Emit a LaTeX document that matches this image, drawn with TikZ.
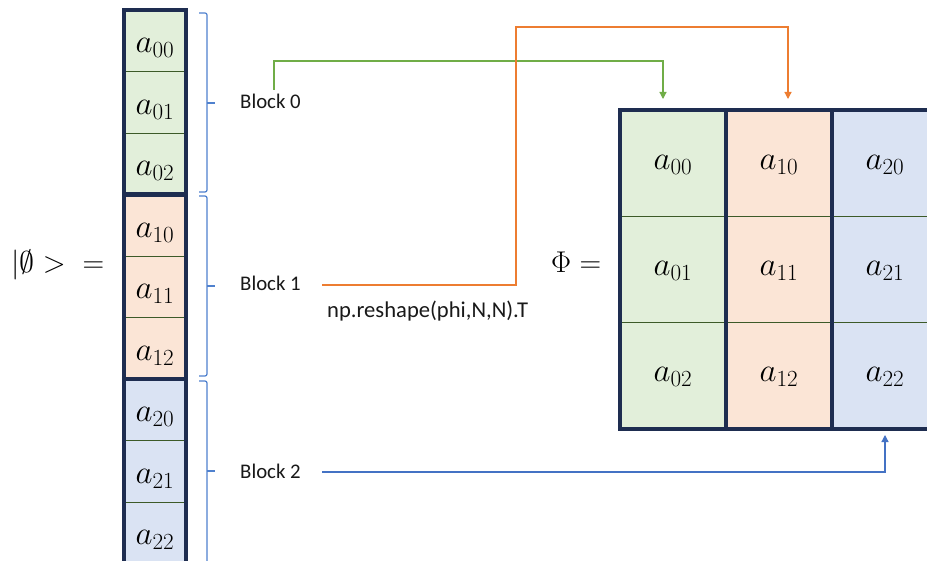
\RequirePackage{fix-cm}
\documentclass[tikz,border=0pt]{standalone}
\usepackage[no-math]{fontspec}
\setmainfont{Carlito}
\usetikzlibrary{arrows.meta}
\definecolor{navy}{RGB}{30,45,80}
\definecolor{sepgreen}{RGB}{60,90,40}
\definecolor{fgreen}{RGB}{226,239,218}
\definecolor{forange}{RGB}{251,229,214}
\definecolor{fblue}{RGB}{218,227,243}
\definecolor{cgreen}{RGB}{112,173,71}
\definecolor{corange}{RGB}{237,125,49}
\definecolor{cblue}{RGB}{68,114,196}
\definecolor{bracec}{RGB}{79,129,206}
\begin{document}
\begin{tikzpicture}[x=1pt,y=-1pt,
  vcell/.style={minimum width=62pt,minimum height=61.5pt,inner sep=0pt,draw=sepgreen,line width=0.8pt,
    font=\fontsize{33}{39}\selectfont,text height=24pt,text depth=0pt},
  mcell/.style={minimum width=106pt,minimum height=106pt,inner sep=0pt,draw=sepgreen,line width=0.8pt,
    font=\fontsize{33}{39}\selectfont,text height=13pt,text depth=0pt},
  blk/.style={draw=navy,line width=4pt},
  bracepath/.style={draw=bracec,line width=1.2pt,rounded corners=2pt},
  lbl/.style={inner sep=0pt,font=\fontsize{20.8}{24}\selectfont,text=black!90},
  codelbl/.style={inner sep=0pt,font=\fontsize{22.6}{26}\selectfont,text=black!90},
  conn/.style={line width=1.2pt,-{Triangle[width=7pt,length=7pt]}},
  eqlbl/.style={inner sep=0pt,font=\fontsize{30}{36}\selectfont}
]
\useasboundingbox (0,0) rectangle (927,561);
\clip (0,0) rectangle (927,561);
\fill[white] (0,0) rectangle (927,561);

% vector column
\node[vcell,fill=fgreen] (c00) at (155,40.75) {$a_{00}$};
\node[vcell,fill=fgreen] (c01) at (155,102.25) {$a_{01}$};
\node[vcell,fill=fgreen] (c02) at (155,163.75) {$a_{02}$};
\node[vcell,fill=forange] (c10) at (155,225.25) {$a_{10}$};
\node[vcell,fill=forange] (c11) at (155,286.75) {$a_{11}$};
\node[vcell,fill=forange] (c12) at (155,348.25) {$a_{12}$};
\node[vcell,fill=fblue] (c20) at (155,409.75) {$a_{20}$};
\node[vcell,fill=fblue] (c21) at (155,471.25) {$a_{21}$};
\node[vcell,fill=fblue] (c22) at (155,532.75) {$a_{22}$};
\draw[blk] (c00.north west) rectangle (c02.south east);
\draw[blk] (c10.north west) rectangle (c12.south east);
\draw[blk] (c20.north west) rectangle (c22.south east);

% braces
\draw[bracepath] (199,13) -- (207,13) -- (207,192) -- (199,192);
\draw[bracepath] (207,103) -- (215,103);
\draw[bracepath] (199,196) -- (207,196) -- (207,376) -- (199,376);
\draw[bracepath] (207,286) -- (215,286);
\draw[bracepath] (199,381) -- (207,381) -- (207,575) -- (199,575);
\draw[bracepath] (207,471) -- (215,471);

% labels
\node[lbl,anchor=base west] (b0) at (240,109) {Block 0};
\node[lbl,anchor=base west] (b1) at (240,291) {Block 1};
\node[lbl,anchor=base west] (b2) at (240,478) {Block 2};
\node[codelbl,anchor=base west] (np) at (327,318) {np.reshape(phi,N,N).T};
\node[eqlbl,anchor=base west] (ket) at (11,273) {$|\emptyset > \hspace{17pt} =$};
\node[eqlbl,anchor=base west] (phi) at (551,273) {$\Phi =$};

% matrix
\node[mcell,fill=fgreen] (m00) at (673,163.5) {$a_{00}$};
\node[mcell,fill=fgreen] (m01) at (673,269.5) {$a_{01}$};
\node[mcell,fill=fgreen] (m02) at (673,375.5) {$a_{02}$};
\node[mcell,fill=forange] (m10) at (779,163.5) {$a_{10}$};
\node[mcell,fill=forange] (m11) at (779,269.5) {$a_{11}$};
\node[mcell,fill=forange] (m12) at (779,375.5) {$a_{12}$};
\node[mcell,fill=fblue] (m20) at (885,163.5) {$a_{20}$};
\node[mcell,fill=fblue] (m21) at (885,269.5) {$a_{21}$};
\node[mcell,fill=fblue] (m22) at (885,375.5) {$a_{22}$};
\draw[blk] (m00.north west) rectangle (m02.south east);
\draw[blk] (m10.north west) rectangle (m12.south east);
\draw[blk] (m20.north west) rectangle (m22.south east);

% connector end points
\coordinate (g0) at (274,90);
\coordinate (gk) at (663,61);
\coordinate (gt) at (663,99);
\coordinate (o0) at (322,285);
\coordinate (ok) at (516,27);
\coordinate (ot) at (788,99);
\coordinate (bl0) at (322,472);
\coordinate (bt) at (885,435);

\draw[conn,cgreen] (g0) |- (gk) -- (gt);
\draw[conn,corange] (o0) -| (ok) -| (ot);
\draw[conn,cblue] (bl0) -| (bt);
\end{tikzpicture}
\end{document}
